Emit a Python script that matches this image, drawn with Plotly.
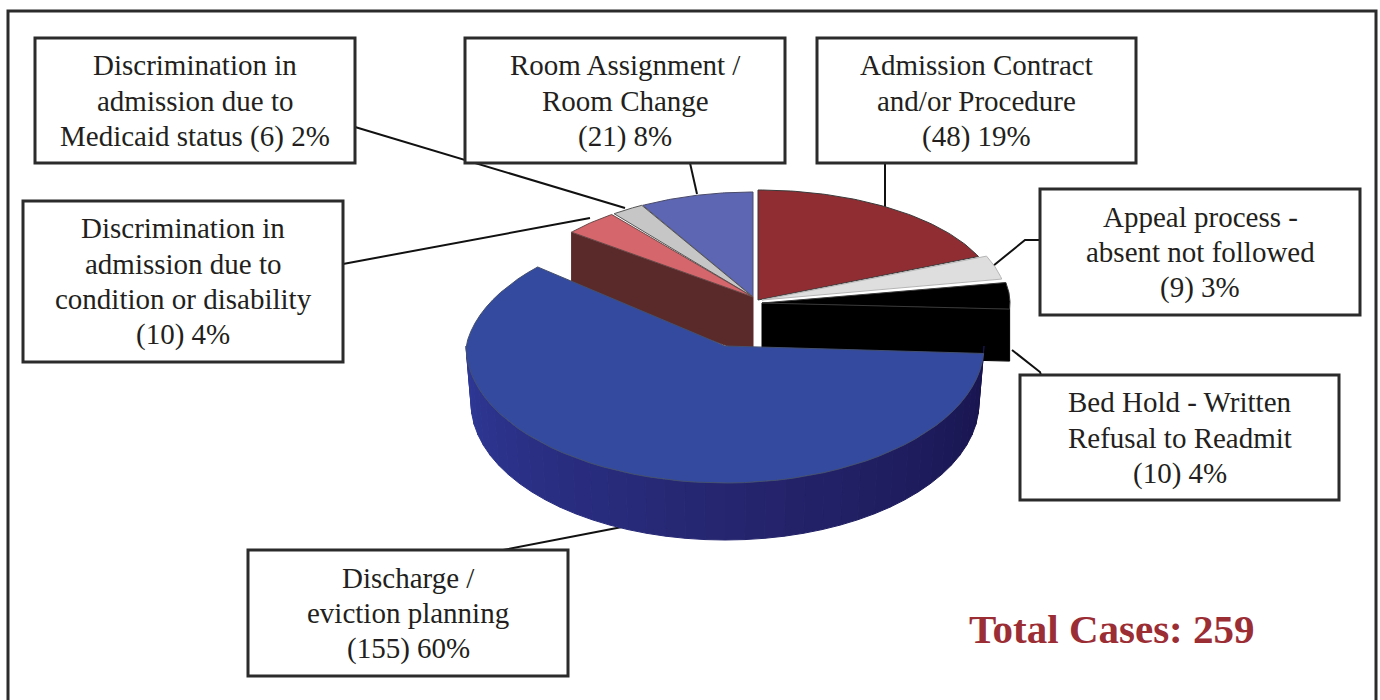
import math
import plotly.graph_objects as go

categories = ["Admission Contract and/or Procedure", "Appeal process - absent not followed",
              "Bed Hold - Written Refusal to Readmit", "Discharge / eviction planning",
              "Discrimination in admission due to condition or disability",
              "Discrimination in admission due to Medicaid status", "Room Assignment / Room Change"]
counts = [48, 9, 10, 155, 10, 6, 21]
percents = [19, 3, 4, 60, 4, 2, 8]
label_lines = [
    ["Admission Contract", "and/or Procedure"],
    ["Appeal process -", "absent not followed"],
    ["Bed Hold - Written", "Refusal to Readmit"],
    ["Discharge /", "eviction planning"],
    ["Discrimination in", "admission due to", "condition or disability"],
    ["Discrimination in", "admission due to"],
    ["Room Assignment /", "Room Change"],
]
total_label = "Total Cases: 259"

top_colors = ["#8F2D33", "#DEDEDE", "#000000", "#334A9E", "#D4666C", "#C6C6C6", "#5C66B2"]
edge_colors = ["#3a3a3a", "#b5b5b5", "#3a3a3a", "#44506f", "#6a4a4a", "#555555", "#4a4a6a"]
side_colors = [None, None, "#000000", None, "#5A2A2A", None, None]
# geometry per slice: apex x, apex y, radius x, radius y, depth, upper perspective
geom = [
    (758, 300, 240, 110, 0, 0),
    (762, 300, 244, 112, 0, 0),
    (762, 303, 248, 112, 52, 0),
    (725, 346, 259, 137, 57, 0.12),
    (753, 297, 232, 104, 58, 0),
    (753, 297, 228, 105, 0, 0),
    (753, 297, 226, 105, 0, 0),
]
boxes = [(817, 38, 1136, 163), (1040, 189, 1360, 315), (1020, 375, 1339, 500),
         (248, 550, 568, 676), (23, 201, 343, 362), (35, 38, 355, 163), (465, 38, 785, 163)]
leaders = [
    [(885, 163), (885, 208)],
    [(1040, 240), (1025, 240), (993, 266)],
    [(1041, 375), (1040, 372), (1012, 350)],
    [(503, 550), (622, 527)],
    [(343, 264), (590, 218)],
    [(355, 127), (625, 208)],
    [(690, 163), (697, 194)],
]

total = sum(counts)
starts, a0 = [], 0.0
for c in counts:
    starts.append(a0)
    a0 += c / total * 360


def pt(g, deg, dz=0):
    cx, cy, rx, ry, _, k = g
    t = math.radians(deg)
    s = 1 - k * max(math.cos(t), 0)
    return cx + rx * s * math.sin(t), cy - ry * s * math.cos(t) + dz


def arc(g, a, b, dz=0, n=60):
    pts = [pt(g, a + (b - a) * i / n, dz) for i in range(n + 1)]
    return [p[0] for p in pts], [p[1] for p in pts]


def mix(c1, c2, f):
    return "rgb(%d,%d,%d)" % tuple(c1[i] + (c2[i] - c1[i]) * f for i in range(3))


fig = go.Figure()


def poly(xs, ys, fill, line=None, w=1):
    fig.add_trace(go.Scatter(x=xs, y=ys, mode="lines", fill="toself", fillcolor=fill,
                             line=dict(color=line or fill, width=w), hoverinfo="skip", showlegend=False))


def top(i):
    g = geom[i]
    a, b = starts[i], starts[i] + counts[i] / total * 360
    xs, ys = arc(g, a, b)
    poly([g[0]] + xs + [g[0]], [g[1]] + ys + [g[1]], top_colors[i], edge_colors[i], 1)


# back slices, drawn far to near
for i in (6, 5):
    top(i)
# slice 4: side wall then face
g = geom[4]
p = pt(g, starts[4])
poly([g[0], p[0], p[0], g[0], g[0]], [g[1], p[1], p[1] + g[4], g[1] + g[4], g[1]], side_colors[4])
top(4)
top(0)
top(1)
# black slice
g = geom[2]
p = pt(g, starts[2] + counts[2] / total * 360)
poly([g[0], p[0], p[0], g[0], g[0]], [g[1], p[1], p[1] + g[4], g[1] + g[4], g[1]], side_colors[2])
top(2)
# large slice: shaded wall, in segments, then face
g = geom[3]
g_low = (g[0], g[1], g[2] - 5, g[3], g[4], g[5])
segs = 40
c_right, c_mid, c_left = (24, 20, 78), (38, 38, 112), (46, 56, 150)
for j in range(segs):
    a = 90 + 180 * j / segs
    b = 90 + 180 * (j + 1) / segs
    f = j / (segs - 1)
    col = mix(c_right, c_mid, f * 2) if f < 0.5 else mix(c_mid, c_left, (f - 0.5) * 2)
    x1, y1 = arc(g, a, b, 0, 4)
    x2, y2 = arc(g_low, b, a, g[4], 4)
    poly(x1 + x2 + [x1[0]], y1 + y2 + [y1[0]], col)
top(3)

shapes = [dict(type="rect", x0=8, y0=11, x1=1376, y1=740, line=dict(color="#2b2b2b", width=3), layer="below")]
for seg in leaders:
    path = "M " + " L ".join(f"{x},{y}" for x, y in seg)
    shapes.append(dict(type="path", path=path, line=dict(color="#111111", width=2), layer="below"))
for (x0, y0, x1, y1) in boxes:
    shapes.append(dict(type="rect", x0=x0, y0=y0, x1=x1, y1=y1, fillcolor="white",
                       line=dict(color="#2b2b2b", width=3), layer="above"))

FONT = "Liberation Serif"
LINE = 35.5
anns = []
for i, lines in enumerate(label_lines):
    x0, y0, x1, y1 = boxes[i]
    tail = f"({counts[i]}) {percents[i]}%"
    rows = lines + ["Medicaid status " + tail] if i == 5 else lines + [tail]
    cy = (y0 + y1) / 2
    for r, row in enumerate(rows):
        anns.append(dict(x=(x0 + x1) / 2, y=cy + (r - (len(rows) - 1) / 2) * LINE, text=row, showarrow=False,
                         xanchor="center", yanchor="middle", align="center",
                         font=dict(family=FONT, size=29, color="#231f20")))
anns.append(dict(x=1112, y=629, text=f"<b>{total_label}</b>", showarrow=False, xanchor="center", yanchor="middle",
                 font=dict(family=FONT, size=41, color="#9B2D35")))

fig.update_layout(
    width=1380, height=700, margin=dict(l=0, r=0, t=0, b=0), autosize=False,
    paper_bgcolor="white", plot_bgcolor="white", showlegend=False,
    xaxis=dict(range=[0, 1380], visible=False, fixedrange=True),
    yaxis=dict(range=[700, 0], visible=False, fixedrange=True),
    shapes=shapes, annotations=anns,
)
fig.write_html("out.html", config=dict(displayModeBar=False),
               post_script="document.body.style.margin='0';document.documentElement.style.overflow='hidden';")
